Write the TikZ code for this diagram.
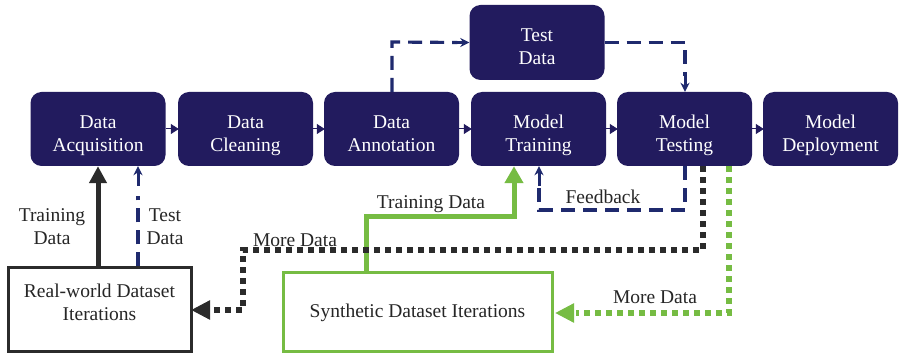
\documentclass[tikz,border=0pt]{standalone}
\usepackage{fontspec}
\setmainfont{Liberation Serif}
\usetikzlibrary{arrows.meta}
\definecolor{navy}{HTML}{221B5E}
\definecolor{dnavy}{HTML}{1F2A6E}
\definecolor{lgreen}{HTML}{76BC43}
\definecolor{dgray}{HTML}{2B2B2B}
\newcommand{\stagetxt}[1]{\raisebox{-11.5pt}[0pt][0pt]{\begin{tabular}{@{}c@{}}#1\end{tabular}}}
\begin{document}
\begin{tikzpicture}[x=1pt,y=-1pt,
  stage/.style={rectangle, rounded corners=11pt, fill=navy, draw=none, text=white,
    minimum width=135pt, minimum height=74pt, font=\fontsize{19.5}{23}\selectfont, inner sep=0pt},
  lbl/.style={font=\fontsize{19.5}{23}\selectfont, text=black!85, align=center, inner sep=1pt},
  flow/.style={-{Triangle[length=8pt,width=10pt]}, navy, line width=1pt, shorten >=-1pt},
  navydash/.style={dnavy, line width=3.2pt, dash pattern=on 14pt off 8pt},
  navyarrow/.style={-{Stealth[length=9pt,width=9pt]}},
  blackdot/.style={dgray, line width=6pt, dash pattern=on 6pt off 5pt},
  greendot/.style={lgreen, line width=5.5pt, dash pattern=on 5.5pt off 5.5pt},
]
\useasboundingbox[fill=white] (0,0) rectangle (911,355);

\node[stage] (acq)    at (98,129)  {\stagetxt{Data\\Acquisition}};
\node[stage] (clean)  at (245.5,129) {\stagetxt{Data\\Cleaning}};
\node[stage] (annot)  at (391.5,129) {\stagetxt{Data\\Annotation}};
\node[stage] (train)  at (538.5,129) {\stagetxt{Model\\Training}};
\node[stage] (mtest)  at (684.5,129) {\stagetxt{Model\\Testing}};
\node[stage] (deploy) at (830.5,129) {\stagetxt{Model\\Deployment}};
\node[stage, minimum height=75pt] (tdata) at (537,42.5) {\stagetxt{Test\\Data}};

\node[draw=dgray, line width=3pt, minimum width=183pt, minimum height=84pt,
  label={[lbl, yshift=8pt]center:Real-world Dataset\\Iterations}] (real) at (99.5,310) {};
\node[draw=lgreen, line width=3pt, minimum width=269pt, minimum height=79pt, lbl] (syn) at (417.5,312.5) {Synthetic Dataset Iterations};

% small flow arrows between stages
\draw[flow] (acq.east) -- (clean.west);
\draw[flow] (clean.east) -- (annot.west);
\draw[flow] (annot.east) -- (train.west);
\draw[flow] (train.east) -- (mtest.west);
\draw[flow] (mtest.east) -- (deploy.west);

% test data branch
\coordinate (a1) at (392,42);
\draw[navydash] (annot.north -| a1) -- (a1) -- ([xshift=-12pt]tdata.west);
\draw[dnavy, line width=3pt, navyarrow] ([xshift=-16pt]tdata.west) -- (tdata.west);
\coordinate (a2) at (685,42.5);
\draw[navydash] (tdata.east) -- (a2) -- ++(0,34);
\draw[dnavy, line width=3pt, navyarrow] (685,74) -- (mtest.north -| a2);

% feedback
\coordinate (f1) at (685,210);
\coordinate (f2) at (539,210);
\draw[navydash] (mtest.south -| f1) -- (f1) -- (f2) -- ++(0,-26);
\draw[dnavy, line width=3pt, navyarrow] (539,186) -- (train.south -| f2);
\node[lbl] (fb) at (603,197) {Feedback};

% real-world to acquisition
\draw[dgray, line width=5pt, -{Triangle[length=17pt,width=17pt]}] (real.north -| acq) -- (acq.south);
\coordinate (t1) at (138,0);
\draw[navydash] (real.north -| t1) -- ++(0,-70);
\draw[dnavy, line width=3pt, navyarrow] (138,186) -- (acq.south -| t1);
\node[lbl] (trd1) at (52,227) {Training\\Data};
\node[lbl] (ted1) at (165,227) {Test\\Data};

% synthetic to training
\coordinate (g1) at (366,217);
\coordinate (g2) at (514,217);
\draw[lgreen, line width=5pt, -{Triangle[length=17pt,width=18pt]}] (syn.north -| g1) -- (g1) -- (g2) -- (train.south -| g2);
\node[lbl] (trd2) at (431,204) {Training Data};

% more data black dotted
\coordinate (b1) at (703,250);
\coordinate (b2) at (243,250);
\coordinate (b3) at (243,310);
\draw[blackdot] (mtest.south -| b1) -- (b1) -- (b2) -- (b3) -- (210,310);
\draw[dgray, line width=1pt, fill=dgray] (real.east |- b3) -- ++(17,-9) -- ++(0,18) -- cycle;
\node[lbl] (md1) at (295,240) {More Data};

% more data green dotted
\coordinate (c1) at (729,313);
\draw[greendot] (mtest.south -| c1) -- (c1) -- (576,313);
\draw[lgreen, line width=1pt, fill=lgreen] (syn.east |- c1) ++(3,0) -- ++(17,-9) -- ++(0,18) -- cycle;
\node[lbl] (md2) at (655,297) {More Data};
\end{tikzpicture}
\end{document}
